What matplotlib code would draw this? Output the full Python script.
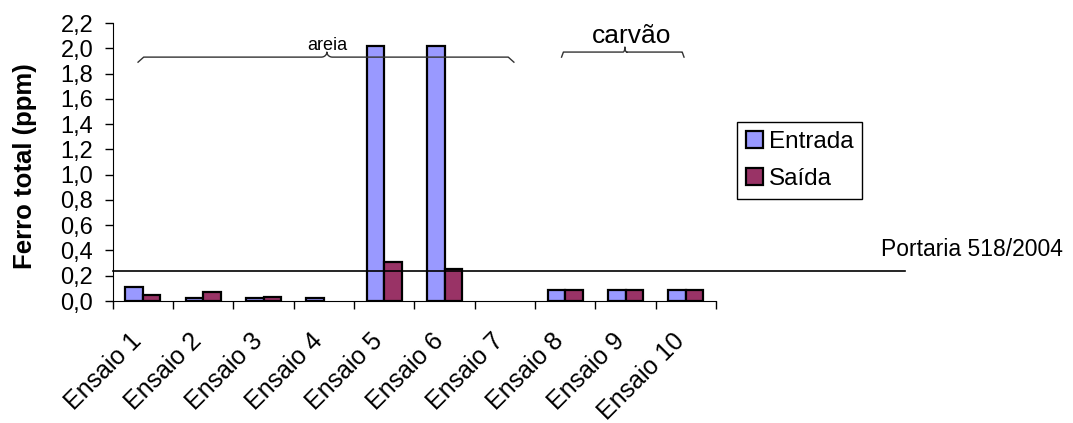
import matplotlib.pyplot as plt
import matplotlib.transforms as mtransforms
import numpy as np

plt.rcParams['font.family'] = ['Liberation Sans', 'DejaVu Sans']

# data (nan = no value shown)
ensaios = ['Ensaio 1', 'Ensaio 2', 'Ensaio 3', 'Ensaio 4', 'Ensaio 5',
           'Ensaio 6', 'Ensaio 7', 'Ensaio 8', 'Ensaio 9', 'Ensaio 10']
entrada = [0.11, 0.02, 0.02, 0.02, 2.02, 2.02, np.nan, 0.09, 0.09, 0.09]
saida = [0.05, 0.07, 0.03, np.nan, 0.31, 0.25, np.nan, 0.09, 0.09, 0.09]
portaria = 0.24
yticks = [0.0, 0.2, 0.4, 0.6, 0.8, 1.0, 1.2, 1.4, 1.6, 1.8, 2.0, 2.2]


def brace(ax, x0, x1, xm, y, h):
    # curly brace opening downwards, tip up at xm
    t = np.linspace(0, 1, 20)
    q = t * np.pi / 2
    w = (x1 - x0) * 0.015
    xs = np.concatenate([x0 + w * np.sin(q), [xm - w],
                         xm - w + w * np.sin(q),
                         xm + w * (1 - np.cos(q)), [xm + w],
                         x1 - w * np.cos(q)])
    ys = np.concatenate([y - h * (1 - np.sin(q)), [y], y + h * (1 - np.cos(q)),
                         y + h - h * np.sin(q), [y],
                         y - h * (1 - np.cos(q))])
    ax.plot(xs, ys, color='#333333', lw=1, clip_on=False)


fig = plt.figure(figsize=(10.73, 4.23), dpi=100)
ax = fig.add_axes([112.7 / 1073, 1 - 301 / 423, (716 - 112.7) / 1073, 278 / 423])

x = np.arange(len(ensaios))
w = 0.29
ax.bar(x - w / 2, entrada, w, color='#9999FF', edgecolor='black', lw=1.6, label='Entrada')
ax.bar(x + w / 2, saida, w, color='#993366', edgecolor='black', lw=1.6, label='Saída')

ax.set_xlim(-0.5, len(ensaios) - 0.5)
ax.set_ylim(0, 2.2)
ax.set_yticks(yticks)
ax.set_yticklabels([f'{v:.1f}'.replace('.', ',') for v in yticks], fontsize=17)
ax.set_xticks(np.arange(-0.5, len(ensaios), 1.0))
ax.set_xticklabels([])
ax.set_xticks(x, minor=True)
ax.set_xticklabels(ensaios, minor=True, rotation=45, ha='right', va='center',
                   rotation_mode='anchor', fontsize=18)
ax.tick_params(axis='x', which='minor', length=0, pad=26)
ax.tick_params(axis='both', which='major', length=6, width=1)
ax.tick_params(axis='y', pad=8)
shift = mtransforms.ScaledTranslation(-5 / 100, 0, fig.dpi_scale_trans)
for lab in ax.get_xticklabels(minor=True):
    lab.set_transform(lab.get_transform() + shift)
ax.spines['top'].set_visible(False)
ax.spines['right'].set_visible(False)
fig.text(25 / 1073, 1 - 166 / 423, 'Ferro total (ppm)', fontsize=18.5,
         fontweight='bold', rotation=90, ha='center', va='center')

# legal limit line
ax.axhline(portaria, xmin=0, xmax=(905 - 112.7) / (716 - 112.7), color='black',
           lw=1.2, clip_on=False)
fig.text(1063 / 1073, 1 - 249 / 423, 'Portaria 518/2004', fontsize=16.5,
         ha='right', va='center')

# group braces
brace(ax, -0.08, 6.15, 3.05, 1.93, 0.04)
ax.text(3.05, 1.955, 'areia', fontsize=13, ha='center', va='bottom')
brace(ax, 6.94, 8.97, 7.99, 1.97, 0.04)
ax.text(8.1, 2.0, 'carvão', fontsize=19, ha='center', va='bottom')

fig.legend(loc='upper left', bbox_to_anchor=(737 / 1073, 1 - 122 / 423),
           fontsize=17.5, fancybox=False, edgecolor='black', framealpha=1,
           handlelength=0.7, handleheight=0.7, handletextpad=0.25,
           labelspacing=0.65, borderpad=0.35, borderaxespad=0)

fig.savefig('out.png', dpi=100)
